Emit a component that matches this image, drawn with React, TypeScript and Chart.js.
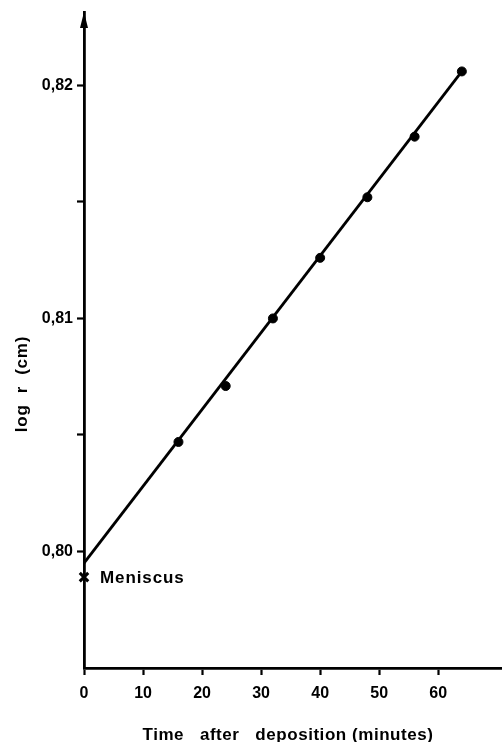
import React, { useEffect, useRef } from "react";
import { Chart, registerables } from "chart.js";

Chart.register(...registerables);

// ---- data ----
const times = [16, 24, 32, 40, 48, 56, 64];
const logR = [0.8047, 0.8071, 0.81, 0.8126, 0.8152, 0.8178, 0.8206];
const fitTimes = [0, 64];
const fitLogR = [0.7995, 0.8206];
const meniscusTime = [0];
const meniscusLogR = [0.7989];
const xTickValues = [0, 10, 20, 30, 40, 50, 60];
const yTickValues = [0.8, 0.805, 0.81, 0.815, 0.82];
const yLabeledTicks = [0.8, 0.81, 0.82];
const xTitle = "Time   after   deposition (minutes)";
const yTitle = "log  r  (cm)";
const meniscusLabel = "Meniscus";

const FONT = "'Liberation Sans', Arial, sans-serif";

const annotate = {
  id: "annotate",
  afterDraw(chart: any) {
    const ctx = chart.ctx as CanvasRenderingContext2D;
    const { left, top, right } = chart.chartArea;
    const xs = chart.scales.x;
    const ys = chart.scales.y;
    ctx.save();
    ctx.fillStyle = "#000";
    // arrow head on y axis
    ctx.beginPath();
    ctx.moveTo(left, top);
    ctx.lineTo(left - 4, top + 16);
    ctx.lineTo(left + 4, top + 16);
    ctx.closePath();
    ctx.fill();

    // meniscus label
    const mx = xs.getPixelForValue(meniscusTime[0]);
    const my = ys.getPixelForValue(meniscusLogR[0]);
    ctx.font = `bold 17px ${FONT}`;
    (ctx as any).letterSpacing = "0.9px";
    ctx.textAlign = "left";
    ctx.textBaseline = "alphabetic";
    ctx.fillText(meniscusLabel, mx + 16, my + 6);

    // x title
    (ctx as any).letterSpacing = "0.55px";
    ctx.textAlign = "center";
    ctx.fillText(xTitle, (left + right) / 2 - 5, 740);

    // y title
    ctx.save();
    ctx.translate(27, 384);
    ctx.rotate(-Math.PI / 2);
    (ctx as any).letterSpacing = "0.8px";
    ctx.textAlign = "center";
    ctx.fillText(yTitle, 0, 0);
    ctx.restore();

    ctx.restore();
  },
};

export default function App() {
  const ref = useRef<HTMLCanvasElement | null>(null);

  useEffect(() => {
    if (!ref.current) return;
    const chart = new Chart(ref.current, {
      type: "line",
      data: {
        datasets: [
          {
            label: "fit",
            data: fitTimes.map((t, i) => ({ x: t, y: fitLogR[i] })),
            borderColor: "#000",
            borderWidth: 2.8,
            pointRadius: 0,
            fill: false,
          },
          {
            label: "measured",
            data: times.map((t, i) => ({ x: t, y: logR[i] })),
            showLine: false,
            pointRadius: 4.5,
            pointBackgroundColor: "#000",
            pointBorderColor: "#000",
            pointBorderWidth: 1,
            clip: false,
          },
          {
            label: "meniscus",
            data: meniscusTime.map((t, i) => ({ x: t, y: meniscusLogR[i] })),
            showLine: false,
            pointStyle: "crossRot",
            pointRadius: 6,
            pointBorderColor: "#000",
            pointBorderWidth: 3,
            clip: false,
          },
        ],
      },
      options: {
        responsive: false,
        animation: false,
        layout: { autoPadding: false, padding: { top: 12, left: 0, right: 0, bottom: 0 } },
        plugins: { legend: { display: false }, tooltip: { enabled: false } },
        scales: {
          x: {
            type: "linear",
            position: "bottom",
            min: 0,
            max: 70.8,
            border: { display: true, color: "#000", width: 2.8 },
            grid: {
              drawOnChartArea: false,
              drawTicks: true,
              tickLength: 7,
              tickColor: "#000",
              tickWidth: 2.2,
            },
            ticks: {
              color: "#000",
              font: { family: FONT, size: 16, weight: "bold" },
              padding: 9,
              maxRotation: 0,
              autoSkip: false,
            },
            afterBuildTicks: (s: any) => {
              s.ticks = xTickValues.map((v) => ({ value: v }));
            },
            afterFit: (s: any) => {
              s.height = 74;
              s.paddingLeft = 0;
              s.paddingRight = 0;
            },
          },
          y: {
            type: "linear",
            position: "left",
            min: 0.795,
            max: 0.82315,
            border: { display: true, color: "#000", width: 2.8 },
            grid: {
              drawOnChartArea: false,
              drawTicks: true,
              tickLength: 7,
              tickColor: "#000",
              tickWidth: 2.2,
            },
            ticks: {
              color: "#000",
              font: { family: FONT, size: 16, weight: "bold" },
              padding: 4,
              autoSkip: false,
              callback: (v: any) => {
                const n = Number(v);
                return yLabeledTicks.some((t) => Math.abs(t - n) < 1e-6)
                  ? n.toFixed(2).replace(".", ",")
                  : "";
              },
            },
            afterBuildTicks: (s: any) => {
              s.ticks = yTickValues.map((v) => ({ value: v }));
            },
            afterFit: (s: any) => {
              s.width = 84;
              s.paddingTop = 0;
              s.paddingBottom = 0;
            },
          },
        },
      },
      plugins: [annotate],
    } as any);
    return () => chart.destroy();
  }, []);

  return (
    <div style={{ position: "fixed", left: 0, top: 0, width: 502, height: 742, background: "#fff" }}>
      <canvas ref={ref} width={502} height={742} style={{ display: "block" }} />
    </div>
  );
}
